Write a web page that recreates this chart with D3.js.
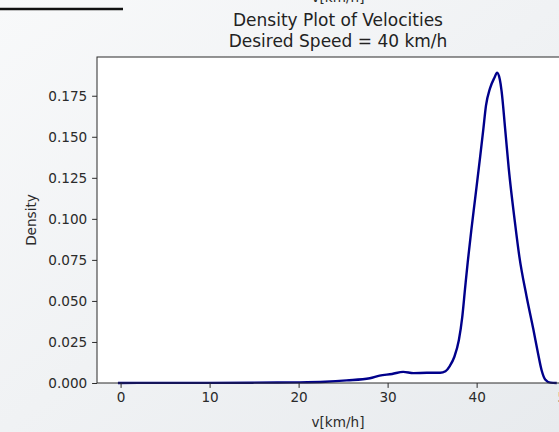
<!DOCTYPE html>
<html>
<head>
<meta charset="utf-8">
<script src="https://cdn.jsdelivr.net/npm/d3@7"></script>
<style>
  html, body { margin: 0; padding: 0; overflow: hidden; }
  svg { display: block; }
  text { font-family: "DejaVu Sans", sans-serif; }
</style>
</head>
<body>
<div id="chart"></div>
<script>
// Density curve (v in km/h, density)
const velocity = [-0.3, 5, 10, 15, 20, 23, 25.4, 28, 29.1, 30.5, 31.75, 32.9, 34.4, 35.9, 36.5, 37.0,
  37.5, 38.0, 38.38, 38.69, 39.0, 39.4, 39.8, 40.4, 40.74, 41.05, 41.5, 42.0, 42.3, 42.6, 42.8, 43.2,
  43.6, 44.3, 44.8, 45.6, 46.36, 46.9, 47.3, 47.7, 48.3, 49.0];
const density = [0, 0.0001, 0.0001, 0.0002, 0.0004, 0.0008, 0.0016, 0.0029, 0.0045, 0.0055, 0.0068,
  0.0060, 0.0062, 0.0062, 0.0072, 0.0105, 0.016, 0.026, 0.040, 0.057, 0.0737, 0.093, 0.111, 0.138,
  0.154, 0.169, 0.1795, 0.186, 0.189, 0.185, 0.178, 0.155, 0.131, 0.098, 0.077, 0.053, 0.033, 0.018,
  0.0078, 0.0022, 0.0002, 0];
const xTicks = [0, 10, 20, 30, 40, 50];
const yTicks = [0, 0.025, 0.05, 0.075, 0.1, 0.125, 0.15, 0.175];
const titleLines = ["Density Plot of Velocities", "Desired Speed = 40 km/h"];

const W = 559, H = 432;
const plot = { left: 97, top: 57, right: 579, bottom: 383 };
const TICK = 4.9, FS = 13.6;
const INK = "#2b2b2b";

const svg = d3.select("#chart").append("svg").attr("width", W).attr("height", H);

// light grey screenshot backdrop
const grad = svg.append("defs").append("linearGradient")
  .attr("id", "bg").attr("x1", 0).attr("y1", 0).attr("x2", 1).attr("y2", 1);
grad.append("stop").attr("offset", "0%").attr("stop-color", "#f8f9fa");
grad.append("stop").attr("offset", "100%").attr("stop-color", "#e8ebee");
svg.append("rect").attr("width", W).attr("height", H).attr("fill", "url(#bg)");

// remnants of the figure above
svg.append("line").attr("x1", 0).attr("x2", 123).attr("y1", 9).attr("y2", 9)
  .attr("stroke", "#111").attr("stroke-width", 2.5);
svg.append("text").attr("x", 338).attr("y", 2).attr("text-anchor", "middle")
  .attr("font-size", FS).attr("fill", INK).text("v[km/h]");

const x = d3.scaleLinear().domain([-2.65, 51.5]).range([plot.left, plot.right]);
const y = d3.scaleLinear().domain([0, 0.1986]).range([plot.bottom, plot.top]);

svg.append("rect")
  .attr("x", plot.left).attr("y", plot.top)
  .attr("width", plot.right - plot.left).attr("height", plot.bottom - plot.top)
  .attr("fill", "#fff");

// curve
const pts = velocity.map((v, i) => [v, density[i]]);
svg.append("path")
  .datum(pts)
  .attr("fill", "none")
  .attr("stroke", "#00008b")
  .attr("stroke-width", 2.4)
  .attr("stroke-linejoin", "round")
  .attr("d", d3.line().x((d) => x(d[0])).y((d) => y(d[1])).curve(d3.curveMonotoneX));

// axes
const gx = svg.append("g").attr("transform", `translate(0,${plot.bottom})`)
  .call(d3.axisBottom(x).tickValues(xTicks).tickFormat(d3.format("d")).tickSize(TICK).tickPadding(4.9));
const gy = svg.append("g").attr("transform", `translate(${plot.left},0)`)
  .call(d3.axisLeft(y).tickValues(yTicks).tickFormat(d3.format(".3f")).tickSize(TICK).tickPadding(4.9));
[gx, gy].forEach((g) => {
  g.select(".domain").remove();
  g.selectAll("line").attr("stroke", INK).attr("stroke-width", 1);
  g.selectAll("text").attr("font-size", FS).attr("fill", INK).attr("font-family", "DejaVu Sans, sans-serif");
});

// spines
svg.append("rect")
  .attr("x", plot.left).attr("y", plot.top)
  .attr("width", plot.right - plot.left).attr("height", plot.bottom - plot.top)
  .attr("fill", "none").attr("stroke", INK).attr("stroke-width", 1);

// labels
svg.append("text").attr("x", (plot.left + plot.right) / 2).attr("y", 427)
  .attr("text-anchor", "middle").attr("font-size", FS).attr("fill", INK).text("v[km/h]");
svg.append("text")
  .attr("transform", `translate(36,${(plot.top + plot.bottom) / 2}) rotate(-90)`)
  .attr("text-anchor", "middle").attr("font-size", FS).attr("fill", INK).text("Density");

svg.append("g").selectAll("text").data(titleLines).join("text")
  .attr("x", (plot.left + plot.right) / 2)
  .attr("y", (d, i) => 26 + i * 21)
  .attr("text-anchor", "middle").attr("font-size", 17).attr("fill", "#222")
  .text((d) => d);
</script>
</body>
</html>
